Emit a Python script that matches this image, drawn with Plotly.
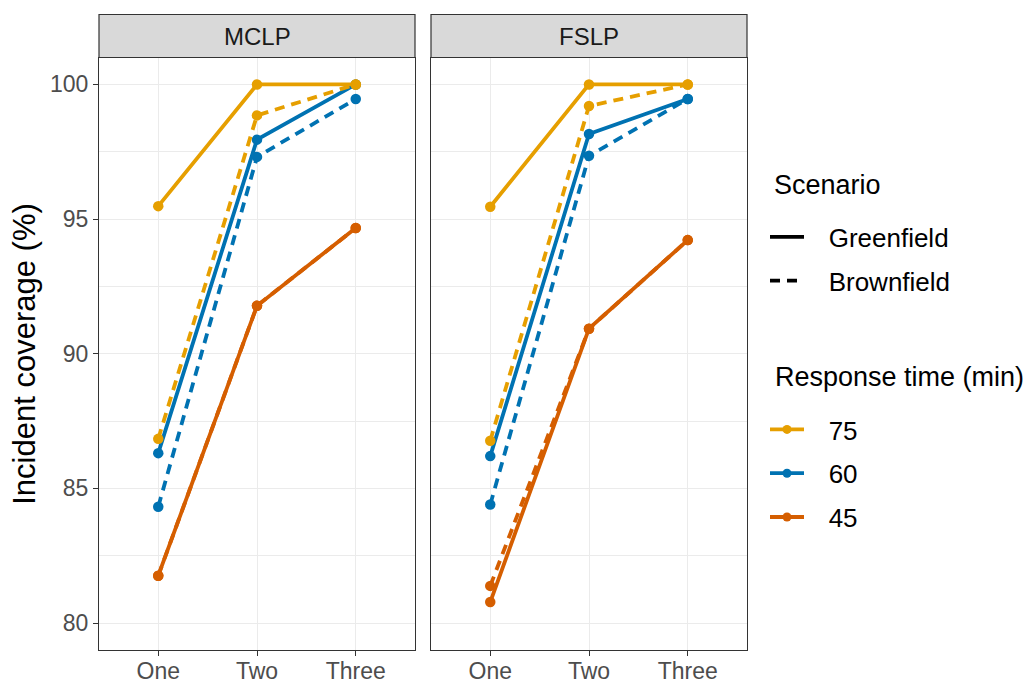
import plotly.graph_objects as go
from plotly.subplots import make_subplots

categories = ["One", "Two", "Three"]
panels = ["MCLP", "FSLP"]
response_times = ["75", "60", "45"]
scenarios = ["Greenfield", "Brownfield"]
colors = {"75": "#E69F00", "60": "#0072B2", "45": "#D55E00"}
dashes = {"Greenfield": "solid", "Brownfield": "10px,7px"}

# MCLP panel
mclp_greenfield_75 = [95.48, 100.0, 100.0]
mclp_brownfield_75 = [86.84, 98.85, 100.0]
mclp_greenfield_60 = [86.31, 97.95, 100.0]
mclp_brownfield_60 = [84.32, 97.31, 99.46]
mclp_greenfield_45 = [81.76, 91.78, 94.67]
mclp_brownfield_45 = [81.76, 91.78, 94.67]

# FSLP panel
fslp_greenfield_75 = [95.46, 100.0, 100.0]
fslp_brownfield_75 = [86.77, 99.2, 100.0]
fslp_greenfield_60 = [86.2, 98.16, 99.46]
fslp_brownfield_60 = [84.4, 97.35, 99.46]
fslp_greenfield_45 = [80.78, 90.93, 94.22]
fslp_brownfield_45 = [81.38, 90.93, 94.22]

data = {
    "MCLP": {
        ("Greenfield", "75"): mclp_greenfield_75,
        ("Brownfield", "75"): mclp_brownfield_75,
        ("Greenfield", "60"): mclp_greenfield_60,
        ("Brownfield", "60"): mclp_brownfield_60,
        ("Greenfield", "45"): mclp_greenfield_45,
        ("Brownfield", "45"): mclp_brownfield_45,
    },
    "FSLP": {
        ("Greenfield", "75"): fslp_greenfield_75,
        ("Brownfield", "75"): fslp_brownfield_75,
        ("Greenfield", "60"): fslp_greenfield_60,
        ("Brownfield", "60"): fslp_brownfield_60,
        ("Greenfield", "45"): fslp_greenfield_45,
        ("Brownfield", "45"): fslp_brownfield_45,
    },
}

FONT = "Liberation Sans, Arial, Helvetica, sans-serif"
W, H = 1035, 684
OFF = 8  # page body margin: screen px = figure px + OFF


def fx(px):
    return (px - OFF) / W


def fy(py):
    return 1 - (py - OFF) / H


panel_px = [(99, 415), (431, 747)]
panel_top, panel_bottom = 57.5, 650
strip_top = 14.5

fig = make_subplots(rows=1, cols=2, shared_yaxes=True)

draw_order = ["45", "60", "75"]
for ci, panel in enumerate(panels, start=1):
    for rt in draw_order:
        for sc in ["Brownfield", "Greenfield"]:
            fig.add_trace(
                go.Scatter(
                    x=categories,
                    y=data[panel][(sc, rt)],
                    mode="lines+markers",
                    line=dict(color=colors[rt], width=3.8, dash=dashes[sc]),
                    marker=dict(color=colors[rt], size=10.5),
                    showlegend=False,
                    legendgroup="rt" + rt,
                    hovertemplate=f"{panel} {sc} {rt} min<br>%{{x}}: %{{y}}<extra></extra>",
                ),
                row=1, col=ci,
            )

NAME_PAD = "\u00a0\u00a0\u2009"
# Legend entries: scenario (linetype)
for sc in scenarios:
    fig.add_trace(
        go.Scatter(
            x=[None], y=[None], mode="lines",
            line=dict(color="black", width=3.8, dash=dashes[sc]),
            name=NAME_PAD + sc, legend="legend", legendgroup="sc" + sc,
            showlegend=True,
        ),
        row=1, col=1,
    )
# Legend entries: response time (colour)
for rt in response_times:
    fig.add_trace(
        go.Scatter(
            x=[None], y=[None], mode="lines+markers",
            line=dict(color=colors[rt], width=3.8),
            marker=dict(color=colors[rt], size=9),
            name=NAME_PAD + rt, legend="legend2", legendgroup="rt" + rt,
            showlegend=True,
        ),
        row=1, col=1,
    )

y_dom = [fy(panel_bottom), fy(panel_top)]
axis_common = dict(
    showline=True, mirror=True, linecolor="#333333", linewidth=1.2,
    ticks="outside", ticklen=5, tickcolor="#333333", tickwidth=1.2,
    gridcolor="#EBEBEB", gridwidth=1.3, zeroline=False,
    tickfont=dict(family=FONT, size=23, color="#4D4D4D"),
    automargin=False,
)
for ci, (x0, x1) in enumerate(panel_px, start=1):
    xa = "xaxis" if ci == 1 else f"xaxis{ci}"
    ya = "yaxis" if ci == 1 else f"yaxis{ci}"
    fig.update_layout({
        xa: dict(axis_common, type="category", categoryorder="array",
                 categoryarray=categories, range=[-0.6, 2.6],
                 domain=[fx(x0), fx(x1)], ticklabelstandoff=-5),
        ya: dict(axis_common, range=[79, 101], tickmode="array",
                 tickvals=[80, 85, 90, 95, 100], domain=y_dom,
                 minor=dict(tickmode="array", tickvals=[82.5, 87.5, 92.5, 97.5],
                            showgrid=True, gridcolor="#EBEBEB", gridwidth=0.7,
                            ticks="")),
    })
fig.update_yaxes(showticklabels=False, ticks="", row=1, col=2)

# Y-axis title
fig.add_annotation(xref="paper", yref="paper", x=fx(25), y=fy((panel_top + panel_bottom) / 2),
                   text="Incident coverage (%)", textangle=-90, showarrow=False,
                   xanchor="center", yanchor="middle",
                   font=dict(family=FONT, size=31, color="black"))

# Facet strips
for ci, panel in enumerate(panels, start=1):
    xref = "x domain" if ci == 1 else f"x{ci} domain"
    fig.add_shape(type="rect", xref=xref, yref="paper", x0=0, x1=1,
                  y0=fy(panel_top), y1=fy(strip_top),
                  fillcolor="#D9D9D9", line=dict(color="#333333", width=1.2),
                  layer="above")
    fig.add_annotation(xref=xref, yref="paper", x=0.5,
                       y=fy((panel_top + strip_top) / 2),
                       text=panel, showarrow=False,
                       font=dict(family=FONT, size=24, color="#1A1A1A"),
                       xanchor="center", yanchor="middle")

# Legend titles
fig.add_annotation(xref="paper", yref="paper", x=fx(772), y=fy(185),
                   text="Scenario", showarrow=False, xanchor="left", yanchor="middle",
                   font=dict(family=FONT, size=27, color="black"))
fig.add_annotation(xref="paper", yref="paper", x=fx(773), y=fy(377),
                   text="Response time (min)", showarrow=False, xanchor="left", yanchor="middle",
                   font=dict(family=FONT, size=27, color="black"))

fig.update_layout(
    width=W, height=H,
    margin=dict(l=0, r=0, t=0, b=0),
    paper_bgcolor="white", plot_bgcolor="white",
    font=dict(family=FONT, color="black"),
    legend=dict(
        font=dict(family=FONT, size=26, color="black"),
        x=fx(765), xanchor="left", y=fy(213.5), yanchor="top",
        tracegroupgap=7, bgcolor="rgba(0,0,0,0)", itemwidth=34,
    ),
    legend2=dict(
        font=dict(family=FONT, size=26, color="black"),
        x=fx(765), xanchor="left", y=fy(406), yanchor="top",
        tracegroupgap=7, bgcolor="rgba(0,0,0,0)", itemwidth=34,
    ),
)

fig.write_html("out.html")
